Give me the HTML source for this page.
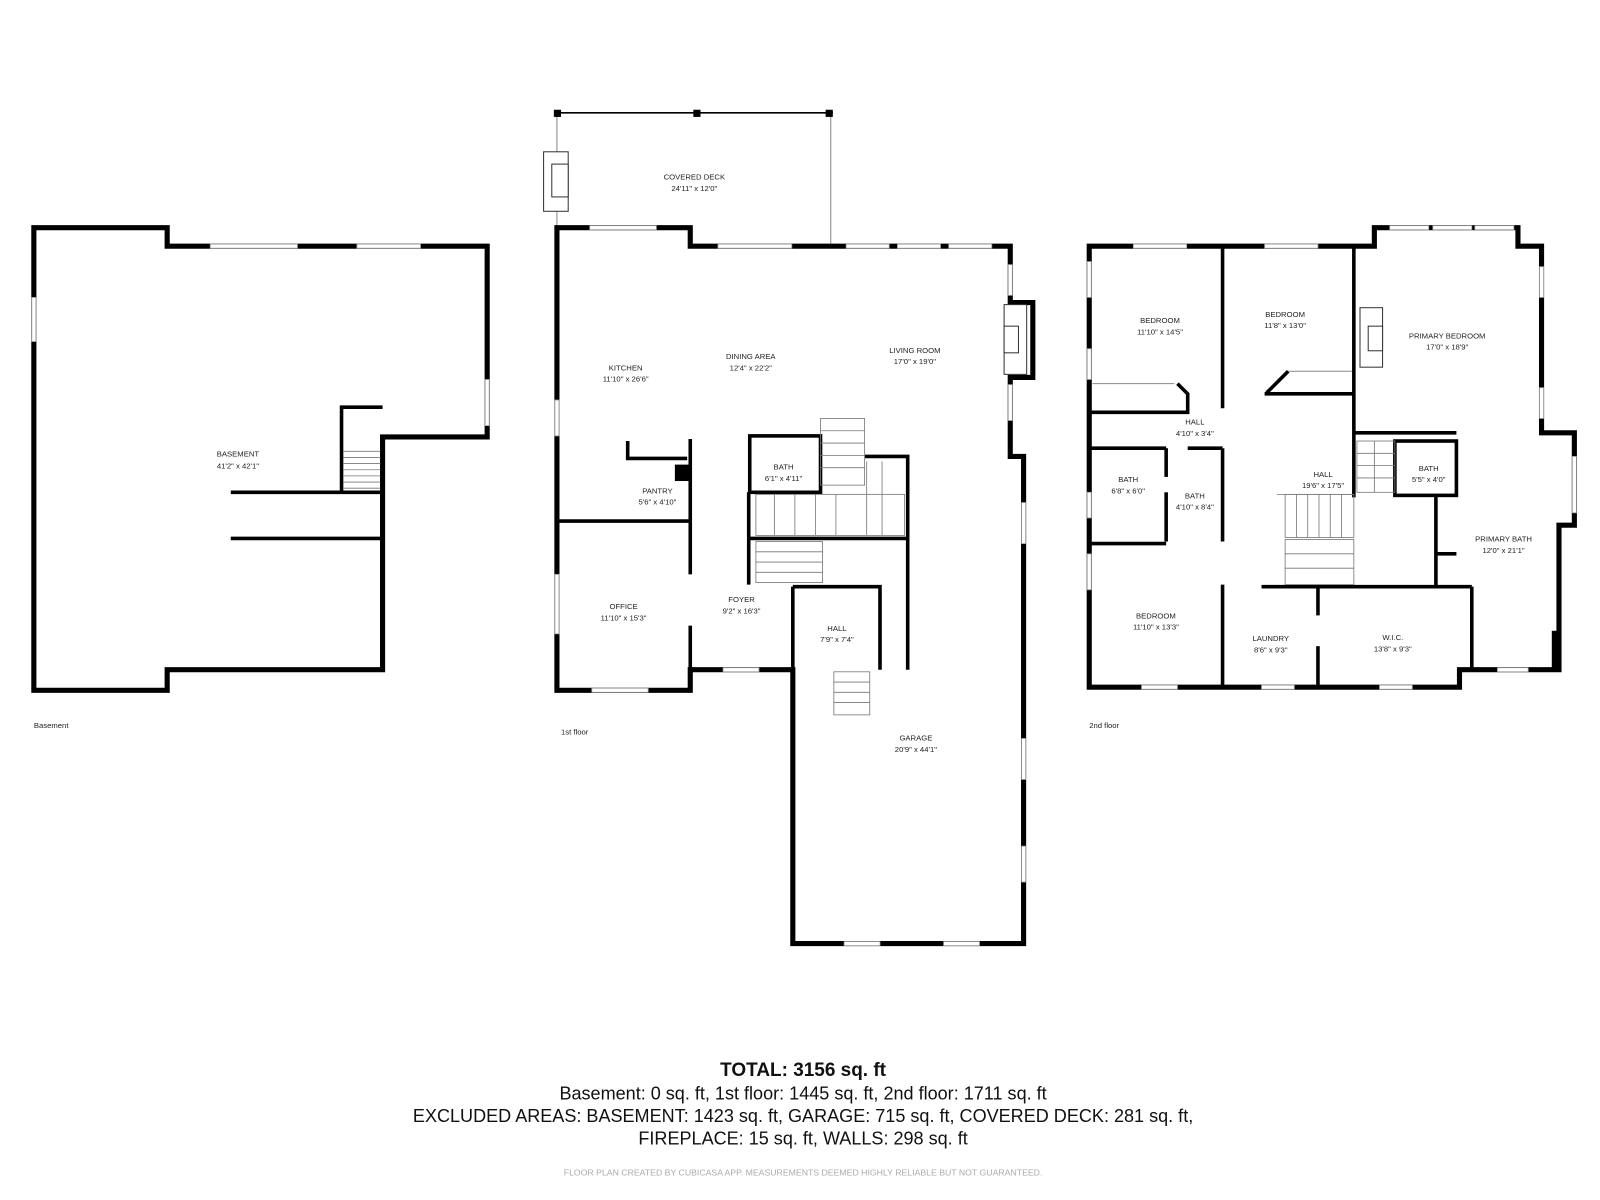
<!DOCTYPE html>
<html><head><meta charset="utf-8"><style>
html,body{margin:0;padding:0;background:#fff;width:1600px;height:1200px;overflow:hidden}
svg{display:block}
text{font-family:"Liberation Sans",sans-serif;fill:#222}
.w{fill:none;stroke:#000;stroke-width:5;stroke-linejoin:miter}
.t{fill:none;stroke:#000;stroke-width:3.5}
.wn{fill:#fff;stroke:#999;stroke-width:0.8}
.thin{fill:none;stroke:#888;stroke-width:1}
.st{stroke:#777;stroke-width:0.8}
.l{font-size:7.5px;text-anchor:middle}
</style></head><body>
<svg width="1600" height="1200" viewBox="0 0 1560 1170" xmlns="http://www.w3.org/2000/svg">
<!-- BASEMENT -->
<polygon class="w" points="33,222 163,222 163,240 475,240 475,426 373,426 373,653 163,653 163,673 33,673"/>
<rect class="wn" x="205" y="238" width="85" height="4"/>
<rect class="wn" x="348" y="238" width="62" height="4"/>
<rect class="wn" x="31" y="290" width="4" height="43"/>
<rect class="wn" x="473" y="370" width="4" height="45"/>
<polyline class="t" points="333,480 333,397 373,397"/>
<line class="t" x1="225" y1="480" x2="373" y2="480"/>
<line class="t" x1="225" y1="525" x2="373" y2="525"/>
<g class="st"><line x1="335" y1="440" x2="371" y2="440"/><line x1="335" y1="446" x2="371" y2="446"/><line x1="335" y1="452" x2="371" y2="452"/><line x1="335" y1="458" x2="371" y2="458"/><line x1="335" y1="464" x2="371" y2="464"/><line x1="335" y1="470" x2="371" y2="470"/><line x1="335" y1="476" x2="371" y2="476"/></g>
<text class="l" x="232" y="445">BASEMENT</text><text class="l" x="232" y="457">41'2" x 42'1"</text>
<text x="33" y="710" style="font-size:7.5px">Basement</text>

<!-- 1ST FLOOR -->
<polyline class="thin" points="543,222 543,110 810,110 810,240"/>
<line x1="541" y1="110" x2="812" y2="110" stroke="#000" stroke-width="1.5"/>
<rect x="540" y="107" width="7" height="7"/><rect x="676" y="107" width="7" height="7"/><rect x="805" y="107" width="7" height="7"/>
<rect x="530" y="148" width="24" height="58" fill="#fff" stroke="#333" stroke-width="1"/>
<rect x="538" y="160" width="16" height="32" fill="#fff" stroke="#333" stroke-width="1"/>
<polygon class="w" points="543,222 673,222 673,240 985,240 985,295 1007,295 1007,368 985,368 985,445 998,445 998,920 773,920 773,653 673,653 673,673 543,673"/>
<rect class="wn" x="575" y="220" width="65" height="4"/>
<rect class="wn" x="700" y="238" width="72" height="4"/>
<rect class="wn" x="825" y="238" width="42" height="4"/>
<rect class="wn" x="875" y="238" width="42" height="4"/>
<rect class="wn" x="925" y="238" width="42" height="4"/>
<rect class="wn" x="983" y="258" width="4" height="30"/>
<rect class="wn" x="983" y="375" width="4" height="35"/>
<rect class="wn" x="541" y="390" width="4" height="35"/>
<rect class="wn" x="541" y="560" width="4" height="58"/>
<rect class="wn" x="577" y="671" width="55" height="4"/>
<rect class="wn" x="705" y="651" width="35" height="4"/>
<rect class="wn" x="996" y="490" width="4" height="40"/>
<rect class="wn" x="996" y="720" width="4" height="40"/>
<rect class="wn" x="996" y="825" width="4" height="35"/>
<rect class="wn" x="823" y="918" width="35" height="4"/>
<rect class="wn" x="920" y="918" width="35" height="4"/>
<rect x="979" y="297" width="22" height="68" fill="#fff" stroke="#333" stroke-width="1"/>
<rect x="979" y="318" width="14" height="26" fill="#fff" stroke="#333" stroke-width="1"/>
<line class="t" x1="543" y1="508" x2="673" y2="508"/>
<line class="t" x1="673" y1="428" x2="673" y2="560"/>
<line class="t" x1="673" y1="610" x2="673" y2="653"/>
<polyline class="t" points="612,430 612,447 670,447"/>
<rect x="658" y="453" width="14" height="16"/>
<rect class="t" x="731" y="425" width="69" height="55"/>
<line class="t" x1="730" y1="480" x2="730" y2="570"/>
<line class="t" x1="730" y1="525" x2="885" y2="525"/>
<polyline class="t" points="843,445 885,445 885,653"/>
<polyline class="t" points="773,572 858,572 858,653"/>
<line class="t" x1="773" y1="572" x2="773" y2="653"/>
<g class="st">
<rect x="800" y="408" width="43" height="65" fill="none"/>
<line x1="800" y1="420" x2="843" y2="420"/><line x1="800" y1="432" x2="843" y2="432"/><line x1="800" y1="444" x2="843" y2="444"/><line x1="800" y1="456" x2="843" y2="456"/>
<rect x="737" y="482" width="145" height="40" fill="none"/>
<line x1="755" y1="482" x2="755" y2="522"/><line x1="775" y1="482" x2="775" y2="522"/><line x1="795" y1="482" x2="795" y2="522"/><line x1="815" y1="482" x2="815" y2="522"/><line x1="845" y1="450" x2="845" y2="522"/><line x1="860" y1="450" x2="860" y2="522"/>
<rect x="737" y="528" width="65" height="40" fill="none"/>
<line x1="737" y1="538" x2="802" y2="538"/><line x1="737" y1="548" x2="802" y2="548"/><line x1="737" y1="558" x2="802" y2="558"/>
<rect x="813" y="655" width="35" height="42" fill="none"/>
<line x1="813" y1="665" x2="848" y2="665"/><line x1="813" y1="675" x2="848" y2="675"/><line x1="813" y1="685" x2="848" y2="685"/>
</g>
<text class="l" x="677" y="175">COVERED DECK</text><text class="l" x="677" y="186">24'11" x 12'0"</text>
<text class="l" x="610" y="361">KITCHEN</text><text class="l" x="610" y="372">11'10" x 26'6"</text>
<text class="l" x="732" y="350">DINING AREA</text><text class="l" x="732" y="361">12'4" x 22'2"</text>
<text class="l" x="892" y="344">LIVING ROOM</text><text class="l" x="892" y="355">17'0" x 19'0"</text>
<text class="l" x="764" y="458">BATH</text><text class="l" x="764" y="469">6'1" x 4'11"</text>
<text class="l" x="641" y="481">PANTRY</text><text class="l" x="641" y="492">5'6" x 4'10"</text>
<text class="l" x="608" y="594">OFFICE</text><text class="l" x="608" y="605">11'10" x 15'3"</text>
<text class="l" x="723" y="587">FOYER</text><text class="l" x="723" y="598">9'2" x 16'3"</text>
<text class="l" x="816" y="615">HALL</text><text class="l" x="816" y="626">7'9" x 7'4"</text>
<text class="l" x="893" y="722">GARAGE</text><text class="l" x="893" y="733">20'9" x 44'1"</text>
<text x="547" y="716" style="font-size:7.5px">1st floor</text>

<!-- 2ND FLOOR -->
<polygon class="w" points="1062,240 1340,240 1340,222 1480,222 1480,240 1503,240 1503,422 1535,422 1535,512 1520,512 1520,653 1423,653 1423,670 1062,670"/>
<rect class="wn" x="1105" y="238" width="52" height="4"/>
<rect class="wn" x="1233" y="238" width="52" height="4"/>
<rect class="wn" x="1355" y="220" width="38" height="4"/>
<rect class="wn" x="1397" y="220" width="38" height="4"/>
<rect class="wn" x="1438" y="220" width="38" height="4"/>
<rect class="wn" x="1060" y="255" width="4" height="35"/>
<rect class="wn" x="1060" y="340" width="4" height="30"/>
<rect class="wn" x="1060" y="480" width="4" height="25"/>
<rect class="wn" x="1060" y="540" width="4" height="35"/>
<rect class="wn" x="1501" y="260" width="4" height="30"/>
<rect class="wn" x="1501" y="378" width="4" height="30"/>
<rect class="wn" x="1533" y="445" width="4" height="55"/>
<rect class="wn" x="1113" y="668" width="35" height="4"/>
<rect class="wn" x="1230" y="668" width="32" height="4"/>
<rect class="wn" x="1345" y="668" width="32" height="4"/>
<rect class="wn" x="1460" y="651" width="30" height="4"/>
<rect x="1513" y="615" width="8" height="38"/>
<rect x="1326" y="300" width="22" height="58" fill="#fff" stroke="#333" stroke-width="1"/>
<rect x="1334" y="318" width="14" height="24" fill="#fff" stroke="#333" stroke-width="1"/>
<line class="t" x1="1192" y1="240" x2="1192" y2="398"/>
<line class="t" x1="1320" y1="240" x2="1320" y2="384"/>
<polyline class="t" points="1233,384 1320,384"/>
<line class="t" x1="1235" y1="383" x2="1256" y2="362"/>
<polyline class="t" points="1062,402 1158,402 1158,384 1148,374"/>
<line class="thin" x1="1256" y1="362" x2="1318" y2="362"/>
<line class="thin" x1="1065" y1="374" x2="1145" y2="374"/>
<line class="t" x1="1062" y1="437" x2="1137" y2="437"/>
<line class="t" x1="1062" y1="530" x2="1137" y2="530"/>
<line class="t" x1="1137" y1="437" x2="1137" y2="465"/>
<line class="t" x1="1137" y1="480" x2="1137" y2="528"/>
<line class="t" x1="1158" y1="437" x2="1192" y2="437"/>
<line class="t" x1="1192" y1="437" x2="1192" y2="528"/>
<line class="t" x1="1192" y1="570" x2="1192" y2="670"/>
<line class="t" x1="1230" y1="572" x2="1435" y2="572"/>
<line class="t" x1="1285" y1="572" x2="1285" y2="600"/>
<line class="t" x1="1285" y1="630" x2="1285" y2="670"/>
<line class="t" x1="1435" y1="572" x2="1435" y2="653"/>
<line class="t" x1="1320" y1="422" x2="1420" y2="422"/>
<line class="t" x1="1320" y1="384" x2="1320" y2="485"/>
<rect class="t" x="1360" y="430" width="60" height="53"/>
<line class="t" x1="1400" y1="483" x2="1400" y2="572"/>
<line class="t" x1="1400" y1="540" x2="1420" y2="540"/>
<g class="st">
<line x1="1245" y1="482" x2="1320" y2="482"/>
<rect x="1253" y="482" width="67" height="42" fill="none"/>
<line x1="1264" y1="482" x2="1264" y2="524"/><line x1="1275" y1="482" x2="1275" y2="524"/><line x1="1286" y1="482" x2="1286" y2="524"/><line x1="1297" y1="482" x2="1297" y2="524"/><line x1="1308" y1="482" x2="1308" y2="524"/>
<rect x="1253" y="526" width="67" height="44" fill="none"/>
<line x1="1253" y1="540" x2="1320" y2="540"/><line x1="1253" y1="554" x2="1320" y2="554"/>
<rect x="1323" y="430" width="37" height="50" fill="none"/>
<line x1="1323" y1="442" x2="1360" y2="442"/><line x1="1323" y1="454" x2="1360" y2="454"/><line x1="1323" y1="466" x2="1360" y2="466"/><line x1="1340" y1="430" x2="1340" y2="480"/>
</g>
<text class="l" x="1131" y="315">BEDROOM</text><text class="l" x="1131" y="326">11'10" x 14'5"</text>
<text class="l" x="1253" y="309">BEDROOM</text><text class="l" x="1253" y="320">11'8" x 13'0"</text>
<text class="l" x="1411" y="330">PRIMARY BEDROOM</text><text class="l" x="1411" y="341">17'0" x 18'9"</text>
<text class="l" x="1165" y="414">HALL</text><text class="l" x="1165" y="425">4'10" x 3'4"</text>
<text class="l" x="1100" y="470">BATH</text><text class="l" x="1100" y="481">6'8" x 6'0"</text>
<text class="l" x="1165" y="486">BATH</text><text class="l" x="1165" y="497">4'10" x 8'4"</text>
<text class="l" x="1290" y="465">HALL</text><text class="l" x="1290" y="476">19'6" x 17'5"</text>
<text class="l" x="1393" y="459">BATH</text><text class="l" x="1393" y="470">5'5" x 4'0"</text>
<text class="l" x="1466" y="528">PRIMARY BATH</text><text class="l" x="1466" y="539">12'0" x 21'1"</text>
<text class="l" x="1127" y="603">BEDROOM</text><text class="l" x="1127" y="614">11'10" x 13'3"</text>
<text class="l" x="1239" y="625">LAUNDRY</text><text class="l" x="1239" y="636">8'6" x 9'3"</text>
<text class="l" x="1358" y="624">W.I.C.</text><text class="l" x="1358" y="635">13'8" x 9'3"</text>
<text x="1062" y="710" style="font-size:7.5px">2nd floor</text>

<!-- TOTALS -->
<text x="783" y="1049" style="font-size:18.5px;font-weight:bold;text-anchor:middle;fill:#111">TOTAL: 3156 sq. ft</text>
<text x="783" y="1072" style="font-size:17.6px;text-anchor:middle;fill:#111">Basement: 0 sq. ft, 1st floor: 1445 sq. ft, 2nd floor: 1711 sq. ft</text>
<text x="783" y="1094" style="font-size:17.6px;text-anchor:middle;fill:#111">EXCLUDED AREAS: BASEMENT: 1423 sq. ft, GARAGE: 715 sq. ft, COVERED DECK: 281 sq. ft,</text>
<text x="783" y="1116" style="font-size:17.6px;text-anchor:middle;fill:#111">FIREPLACE: 15 sq. ft, WALLS: 298 sq. ft</text>
<text x="783" y="1146" style="font-size:8.5px;text-anchor:middle;fill:#aaa">FLOOR PLAN CREATED BY CUBICASA APP. MEASUREMENTS DEEMED HIGHLY RELIABLE BUT NOT GUARANTEED.</text>
</svg>
</body></html>
